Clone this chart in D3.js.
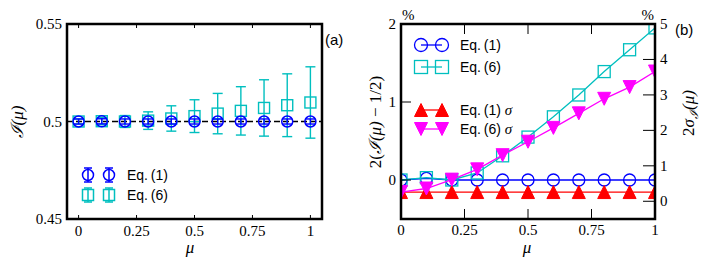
<!DOCTYPE html>
<html>
<head>
<meta charset="utf-8">
<script src="https://cdn.jsdelivr.net/npm/d3@7"></script>
<style>
  body { margin: 0; background: #fff; }
  .tick-label { font-family: "Liberation Serif", "DejaVu Serif", serif; font-size: 15px; fill: #000; }
  .leg { font-family: "Liberation Sans", Arial, sans-serif; font-size: 14px; fill: #000; }
  .ax-label { font-family: "Liberation Serif", "DejaVu Serif", serif; font-size: 17px; font-style: italic; fill: #000; }
</style>
</head>
<body>
<div id="chart"></div>
<script>
// data (values in %, as on panel (b))
var mu = [0, 0.1, 0.2, 0.3, 0.4, 0.5, 0.6, 0.7, 0.8, 0.9, 1];
var eq1Dev = [0, 0.02, 0, 0, 0, 0, 0, 0, 0, 0, 0];
var eq6Dev = [0, 0.03, 0, 0.09, 0.31, 0.55, 0.81, 1.09, 1.39, 1.67, 1.95];
var eq1Sig = [0.26, 0.26, 0.26, 0.26, 0.26, 0.26, 0.26, 0.26, 0.26, 0.26, 0.26];
var eq6Sig = [0.26, 0.36, 0.61, 0.90, 1.30, 1.68, 2.07, 2.48, 2.89, 3.22, 3.66];

var xTicks = [0, 0.25, 0.5, 0.75, 1];
var xTickLabels = ["0", "0.25", "0.5", "0.75", "1"];
var yTicksA = [0.45, 0.5, 0.55];
var yTickLabelsA = ["0.45", "0.5", "0.55"];
var yTicksBL = [0, 1, 2];
var yTicksBR = [0, 1, 2, 3, 4, 5];

var BLUE = "#0000ff", CYAN = "#00bfbf", RED = "#ff0000", MAGENTA = "#ff00ff";

var width = 706, height = 272;
var svg = d3.select("#chart").append("svg")
    .attr("width", width)
    .attr("height", height);

var pTop = 24, pBottom = 219;

// ---------- panel (a) ----------
var xa = d3.scaleLinear().domain([-0.05, 1.05]).range([67, 322]);
var ya = d3.scaleLinear().domain([0.45, 0.55]).range([pBottom, pTop]);

var pa = mu.map(function (m, i) {
    return {
        x: m,
        i1: 0.5 + eq1Dev[i] / 200, e1: eq1Sig[i] / 200,
        i6: 0.5 + eq6Dev[i] / 200, e6: eq6Sig[i] / 200
    };
});

var ga = svg.append("g");

// dashed reference line
ga.append("line")
    .attr("x1", xa.range()[0]).attr("x2", xa.range()[1])
    .attr("y1", ya(0.5)).attr("y2", ya(0.5))
    .attr("stroke", "#000").attr("stroke-width", 1.3)
    .attr("stroke-dasharray", "6,3");

function errBars(g, data, key, ekey, color) {
    var eb = g.append("g").attr("stroke", color).attr("stroke-width", 1.4).attr("fill", "none");
    data.forEach(function (d) {
        var cx = xa(d.x), y1 = ya(d[key] + d[ekey]), y2 = ya(d[key] - d[ekey]);
        eb.append("line").attr("x1", cx).attr("x2", cx).attr("y1", y1).attr("y2", y2);
        eb.append("line").attr("x1", cx - 5).attr("x2", cx + 5).attr("y1", y1).attr("y2", y1);
        eb.append("line").attr("x1", cx - 5).attr("x2", cx + 5).attr("y1", y2).attr("y2", y2);
    });
}

errBars(ga, pa, "i6", "e6", CYAN);
ga.selectAll("rect.sq").data(pa).enter().append("rect")
    .attr("x", d => xa(d.x) - 5.5).attr("y", d => ya(d.i6) - 5.5)
    .attr("width", 11).attr("height", 11)
    .attr("fill", "none").attr("stroke", CYAN).attr("stroke-width", 1.4);

errBars(ga, pa, "i1", "e1", BLUE);
ga.selectAll("circle.c1").data(pa).enter().append("circle")
    .attr("cx", d => xa(d.x)).attr("cy", d => ya(d.i1)).attr("r", 5.5)
    .attr("fill", "none").attr("stroke", BLUE).attr("stroke-width", 1.5);

// ticks (inward)
xTicks.forEach(function (t, i) {
    ga.append("line").attr("x1", xa(t)).attr("x2", xa(t)).attr("y1", pBottom).attr("y2", pBottom - 4).attr("stroke", "#000");
    ga.append("line").attr("x1", xa(t)).attr("x2", xa(t)).attr("y1", pTop).attr("y2", pTop + 4).attr("stroke", "#000");
    ga.append("text").attr("class", "tick-label")
        .attr("x", xa(t)).attr("y", 236).attr("text-anchor", "middle").text(xTickLabels[i]);
});
yTicksA.forEach(function (t, i) {
    ga.append("text").attr("class", "tick-label")
        .attr("x", 62).attr("y", ya(t) + 5).attr("text-anchor", "end").text(yTickLabelsA[i]);
});

// frame
ga.append("rect")
    .attr("x", 67).attr("y", pTop).attr("width", 322 - 67).attr("height", pBottom - pTop)
    .attr("fill", "none").attr("stroke", "#000").attr("stroke-width", 2.5);

// legend (a)
function legErr(g, x, y, color, shape) {
    var lg = g.append("g").attr("stroke", color).attr("stroke-width", 1.5).attr("fill", "none");
    lg.append("line").attr("x1", x).attr("x2", x).attr("y1", y - 7).attr("y2", y + 7);
    lg.append("line").attr("x1", x - 4).attr("x2", x + 4).attr("y1", y - 7).attr("y2", y - 7);
    lg.append("line").attr("x1", x - 4).attr("x2", x + 4).attr("y1", y + 7).attr("y2", y + 7);
    if (shape == "circle") {
        lg.append("circle").attr("cx", x).attr("cy", y).attr("r", 5.5);
    } else {
        lg.append("rect").attr("x", x - 5.5).attr("y", y - 5.5).attr("width", 11).attr("height", 11);
    }
}
[88, 109].forEach(function (x) {
    legErr(ga, x, 175, BLUE, "circle");
    legErr(ga, x, 195, CYAN, "square");
});
ga.append("text").attr("class", "leg").attr("x", 127).attr("y", 180).text("Eq.\u2009(1)");
ga.append("text").attr("class", "leg").attr("x", 127).attr("y", 200).text("Eq.\u2009(6)");

ga.append("text").attr("class", "leg").attr("x", 325).attr("y", 45).style("font-size", "15px").text("(a)");

// axis labels (a)
ga.append("text").attr("class", "ax-label").attr("text-anchor", "middle")
    .attr("x", 190).attr("y", 253).text("μ");
ga.append("text").attr("class", "ax-label").attr("text-anchor", "middle")
    .attr("transform", "translate(23,122) rotate(-90)")
    .text("ℐ(μ)");

// ---------- panel (b) ----------
var xb = d3.scaleLinear().domain([0, 1]).range([401, 655]);
var ybL = d3.scaleLinear().domain([-0.5, 2]).range([pBottom, pTop]);
var ybR = d3.scaleLinear().domain([-0.5, 5]).range([pBottom, pTop]);

var gb = svg.append("g");
gb.append("clipPath").attr("id", "clipb").append("rect")
    .attr("x", 401).attr("y", pTop).attr("width", 655 - 401).attr("height", pBottom - pTop);

var plotb = gb.append("g").attr("clip-path", "url(#clipb)");

var pb = mu.map(function (m, i) {
    return { x: m, d1: eq1Dev[i], d6: eq6Dev[i], s1: eq1Sig[i], s6: eq6Sig[i] };
});

function triPath(s, up) {
    var h = up ? -s : s;
    return "M0," + h + "L" + (-s) + "," + (-h) + "L" + s + "," + (-h) + "Z";
}

function series(g, key, yScale, color, marker) {
    var line = d3.line().x(d => xb(d.x)).y(d => yScale(d[key]));
    g.append("path").datum(pb).attr("d", line)
        .attr("fill", "none").attr("stroke", color).attr("stroke-width", 1.3);
    var m = g.selectAll(null).data(pb).enter();
    if (marker == "circle") {
        m.append("circle").attr("cx", d => xb(d.x)).attr("cy", d => yScale(d[key])).attr("r", 6)
            .attr("fill", "none").attr("stroke", color).attr("stroke-width", 1.3);
    } else if (marker == "square") {
        m.append("rect").attr("x", d => xb(d.x) - 6).attr("y", d => yScale(d[key]) - 6)
            .attr("width", 12).attr("height", 12)
            .attr("fill", "none").attr("stroke", color).attr("stroke-width", 1.3);
    } else {
        m.append("path").attr("d", triPath(6.5, marker == "up"))
            .attr("transform", d => "translate(" + xb(d.x) + "," + yScale(d[key]) + ")")
            .attr("fill", color).attr("stroke", color).attr("stroke-width", 1);
    }
}

series(plotb, "d1", ybL, BLUE, "circle");
series(plotb, "d6", ybL, CYAN, "square");
series(plotb, "s1", ybR, RED, "up");
series(plotb, "s6", ybR, MAGENTA, "down");

// ticks (inward)
xTicks.forEach(function (t, i) {
    gb.append("line").attr("x1", xb(t)).attr("x2", xb(t)).attr("y1", pBottom).attr("y2", pBottom - 10).attr("stroke", "#000");
    gb.append("line").attr("x1", xb(t)).attr("x2", xb(t)).attr("y1", pTop).attr("y2", pTop + 10).attr("stroke", "#000");
    gb.append("text").attr("class", "tick-label")
        .attr("x", xb(t)).attr("y", 235).attr("text-anchor", "middle").text(xTickLabels[i]);
});
yTicksBL.forEach(function (t) {
    gb.append("line").attr("x1", 401).attr("x2", 411).attr("y1", ybL(t)).attr("y2", ybL(t)).attr("stroke", "#000");
    gb.append("text").attr("class", "tick-label")
        .attr("x", 396).attr("y", ybL(t) + 5).attr("text-anchor", "end").text(t);
});
yTicksBR.forEach(function (t) {
    gb.append("line").attr("x1", 655).attr("x2", 643).attr("y1", ybR(t)).attr("y2", ybR(t)).attr("stroke", "#000");
    gb.append("text").attr("class", "tick-label")
        .attr("x", 660).attr("y", ybR(t) + 5).attr("text-anchor", "start").text(t);
});
gb.append("text").attr("class", "tick-label").attr("x", 402).attr("y", 20).text("%");
gb.append("text").attr("class", "tick-label").attr("x", 654).attr("y", 20).attr("text-anchor", "end").text("%");

gb.append("rect")
    .attr("x", 401).attr("y", pTop).attr("width", 655 - 401).attr("height", pBottom - pTop)
    .attr("fill", "none").attr("stroke", "#000").attr("stroke-width", 2.5);

// legend (b)
var legB = [
    { label: "Eq.\u2009(1)", color: BLUE, marker: "circle", y: 45, sigma: false },
    { label: "Eq.\u2009(6)", color: CYAN, marker: "square", y: 67, sigma: false },
    { label: "Eq.\u2009(1) ", color: RED, marker: "up", y: 110, sigma: true },
    { label: "Eq.\u2009(6) ", color: MAGENTA, marker: "down", y: 129, sigma: true }
];
legB.forEach(function (l) {
    var lg = gb.append("g");
    lg.append("line").attr("x1", 421).attr("x2", 442).attr("y1", l.y).attr("y2", l.y)
        .attr("stroke", l.color).attr("stroke-width", 1.3);
    [421, 442].forEach(function (x) {
        if (l.marker == "circle") {
            lg.append("circle").attr("cx", x).attr("cy", l.y).attr("r", 6.5)
                .attr("fill", "none").attr("stroke", l.color).attr("stroke-width", 1.3);
        } else if (l.marker == "square") {
            lg.append("rect").attr("x", x - 6.5).attr("y", l.y - 6.5).attr("width", 13).attr("height", 13)
                .attr("fill", "none").attr("stroke", l.color).attr("stroke-width", 1.3);
        } else {
            lg.append("path").attr("d", triPath(6.5, l.marker == "up"))
                .attr("transform", "translate(" + x + "," + l.y + ")")
                .attr("fill", l.color).attr("stroke", l.color);
        }
    });
    var t = lg.append("text").attr("class", "leg").attr("x", 460).attr("y", l.y + 5).text(l.label);
    if (l.sigma) {
        t.append("tspan").style("font-family", "'Liberation Serif', serif").style("font-style", "italic")
            .style("font-size", "15px").text("σ");
    }
});

gb.append("text").attr("class", "leg").attr("x", 675).attr("y", 35).style("font-size", "15px").text("(b)");

// axis labels (b)
gb.append("text").attr("class", "ax-label").attr("text-anchor", "middle")
    .attr("x", 527).attr("y", 253).text("μ");
var lbl = gb.append("text").attr("class", "ax-label").attr("text-anchor", "middle")
    .attr("transform", "translate(381,122) rotate(-90)");
lbl.append("tspan").style("font-style", "normal").text("2(");
lbl.append("tspan").text("ℐ(μ)");
lbl.append("tspan").style("font-style", "normal").text(" − 1/2)");

var rl = gb.append("text").attr("class", "ax-label").attr("text-anchor", "middle")
    .attr("transform", "translate(694,113) rotate(-90)");
rl.append("tspan").style("font-style", "normal").text("2");
rl.append("tspan").text("σ");
rl.append("tspan").attr("dy", 4).style("font-size", "12px").text("ℐ");
rl.append("tspan").attr("dy", -4).text("(μ)");
</script>
</body>
</html>
